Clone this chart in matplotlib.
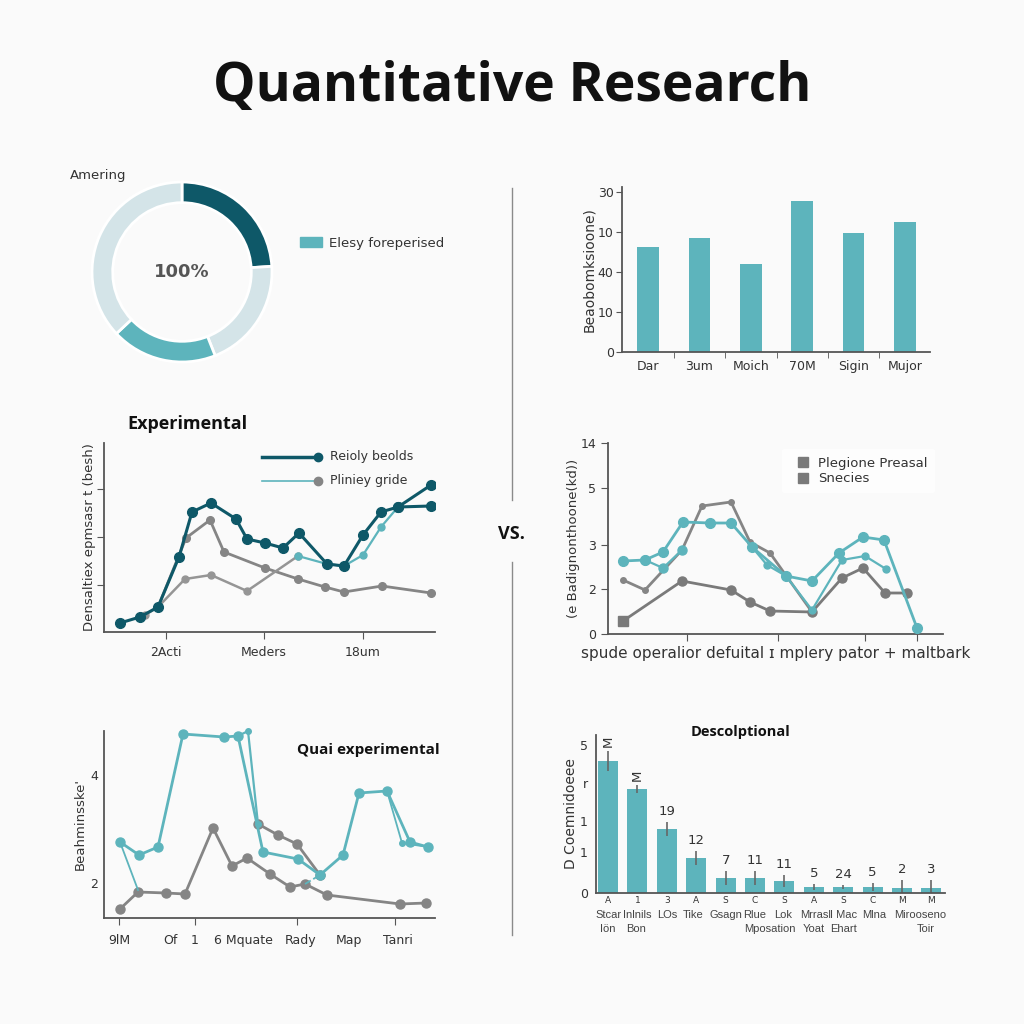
import matplotlib
matplotlib.use('Agg')
import matplotlib.pyplot as plt
from matplotlib.lines import Line2D
from matplotlib.patches import Patch

plt.rcParams['font.family'] = ['DejaVu Sans']

DARK = '#0e5868'
TEAL = '#5db4bc'
LIGHT = '#d4e4e8'
GREY = '#858585'
TXT = '#333333'
BG = '#fafafa'
HEAD = 'Open Sans'

# ---------------- data ----------------
title_text = 'Quantitative Research'

donut_values = [24, 20, 19, 37]
donut_colors = [DARK, LIGHT, TEAL, LIGHT]
donut_center = '100%'
donut_title = 'Amering'
donut_legend = 'Elesy foreperised'

bar_cats = ['Dar', '3um', 'Moich', '70M', 'Sigin', 'Mujor']
bar_vals = [26.2, 28.5, 22.0, 37.8, 29.8, 32.5]
bar_ytick_pos = [0, 10, 20, 30, 40]
bar_ytick_labels = ['0', '10', '40', '10', '30']
bar_ylabel = 'Beaobomksioone)'

exp_title = 'Experimental'
exp_dark_x = [1.6, 3.6, 5.4, 7.5, 8.8, 10.7, 13.2, 14.3, 16.1, 17.9, 19.5, 22.3, 24.0, 25.9, 27.7, 29.4, 32.7]
exp_dark_y = [0.9, 1.5, 2.5, 7.5, 12.0, 12.9, 11.3, 9.3, 8.9, 8.4, 9.9, 6.8, 6.6, 9.7, 12.0, 12.5, 14.7]
exp_branch_x = [29.4, 32.7]
exp_branch_y = [12.5, 12.6]
exp_grey1_x = [5.4, 8.2, 10.6, 12.0, 16.1, 19.4, 22.1, 24.0, 27.8, 32.7]
exp_grey1_y = [2.5, 9.4, 11.2, 8.0, 6.4, 5.3, 4.5, 4.0, 4.6, 3.9]
exp_grey2_x = [4.1, 5.4, 8.1, 10.7, 14.3, 19.4]
exp_grey2_y = [1.7, 2.5, 5.3, 5.7, 4.1, 7.6]
exp_light_x = [19.4, 22.3, 24.0, 25.9, 27.7, 29.4]
exp_light_y = [7.6, 6.8, 6.6, 7.7, 10.5, 12.5]
exp_xticks = [6.2, 16.0, 25.9]
exp_xlabels = ['2Acti', 'Meders', '18um']
exp_yticks = [4.7, 9.5, 14.3]
exp_ylabel = 'Densaltiex epmsasr t (besh)'
exp_legend = ['Reioly beolds', 'Pliniey gride']

r_teal1_x = [1.5, 3.7, 5.5, 7.5, 10.2, 12.3, 14.4, 17.8, 20.4, 23.1, 25.5, 27.6, 30.9]
r_teal1_y = [7.3, 7.4, 8.2, 11.2, 11.1, 11.1, 8.7, 5.8, 5.3, 8.1, 9.7, 9.4, 0.6]
r_teal2_x = [3.7, 5.5, 7.4]
r_teal2_y = [7.4, 6.6, 8.4]
r_teal3_x = [14.4, 15.9, 17.8, 20.4, 23.4, 25.7, 27.8]
r_teal3_y = [8.7, 6.9, 5.8, 2.4, 7.4, 7.8, 6.5]
r_grey1_x = [1.5, 3.7, 7.4, 9.4, 12.3, 14.2, 16.2, 20.4]
r_grey1_y = [5.4, 4.4, 8.4, 12.8, 13.2, 9.2, 8.1, 2.2]
r_grey2_x = [1.5, 7.4, 12.3, 14.2, 16.2, 20.4, 23.4, 25.5, 27.7, 29.9]
r_grey2_y = [1.3, 5.3, 4.4, 3.2, 2.3, 2.2, 5.6, 6.6, 4.1, 4.1]
r_yticks = [0, 4.5, 8.9, 14.6, 19.1]
r_ylabels = ['0', '2', '3', '5', '14']
r_xticks = [7.9, 17.0, 25.7, 30.9]
r_xlabel = 'spude operalior defuital \u026a mplery pator + maltbark'
r_ylabel = '(e Badignonthoone(kd))'
r_legend = ['Plegione Preasal', 'Snecies']

q_title = 'Quai experimental'
q_teal1_x = [1.6, 3.5, 5.4, 7.9, 12.0, 13.4, 15.9, 19.4, 21.6, 23.9, 25.5, 28.3, 30.6, 32.4]
q_teal1_y = [7.6, 6.3, 7.1, 18.4, 18.1, 18.2, 6.6, 5.9, 4.3, 6.3, 12.5, 12.7, 7.6, 7.1]
q_teal2_x = [1.6, 3.4]
q_teal2_y = [7.6, 2.8]
q_teal3_x = [13.4, 14.4, 15.4]
q_teal3_y = [18.2, 18.7, 9.4]
q_teal4_x = [20.1, 21.6]
q_teal4_y = [3.4, 4.3]
q_teal5_x = [28.3, 29.8, 32.4]
q_teal5_y = [12.7, 7.5, 7.1]
q_grey1_x = [1.6, 3.4, 6.2, 8.1, 10.9, 12.8, 14.3, 16.6, 18.6, 20.1, 22.3, 29.6, 32.2]
q_grey1_y = [0.9, 2.6, 2.5, 2.4, 9.0, 5.2, 6.0, 4.4, 3.1, 3.4, 2.3, 1.4, 1.5]
q_grey2_x = [15.4, 17.4, 19.3, 21.6]
q_grey2_y = [9.4, 8.3, 7.4, 4.3]
q_yticks = [3.5, 14.3]
q_ylabels = ['2', '4']
q_xticks = [1.5, 9.1, 19.3, 29.1]
q_xlabel_pos = [1.5, 6.6, 9.1, 13.9, 19.7, 24.5, 29.4]
q_xlabels = ['9lM', 'Of', '1', '6 Mquate', 'Rady', 'Map', 'Tanri']
q_ylabel = "Beahminsske'"

d_title = 'Descolptional'
d_vals = [13.2, 10.4, 6.4, 3.5, 1.5, 1.5, 1.2, 0.6, 0.6, 0.6, 0.5, 0.5]
d_err = [1.0, 0.4, 0.7, 0.7, 0.7, 0.7, 0.6, 0.3, 0.2, 0.4, 0.8, 0.8]
d_value_labels = ['M', 'M', '19', '12', '7', '11', '11', '5', '24', '5', '2', '3']
d_letters = ['A', '1', '3', 'A', 'S', 'C', 'S', 'A', 'S', 'C', 'M', 'M']
d_row1 = ['Stcar', 'Inlnils', 'LOs', 'Tike', 'Gsagn', 'Rlue', 'Lok', 'Mrrasl', 'I Mac', 'Mlna', 'Mirooseno']
d_row1_pos = [0, 1, 2, 2.9, 4, 5, 5.95, 7.05, 8, 9.05, 10.6]
d_row2 = ['I\u00f6n', 'Bon', 'Mposation', 'Yoat', 'Ehart', 'Toir']
d_row2_pos = [0, 0.95, 5.5, 7.0, 8, 10.8]
d_yticks = [0, 4.1, 7.2, 11.0, 14.8]
d_ylabels = ['0', '1', '1', 'r', '5']
d_ylabel = 'D Coemnidoeee'

# ---------------- layout helpers ----------------
W = 1024.0
fig = plt.figure(figsize=(10.24, 10.24), dpi=100, facecolor=BG)


def add_ax(l, t, r, b):
    return fig.add_axes([l / W, 1 - b / W, (r - l) / W, (b - t) / W])


def ftext(x, y, s, **kw):
    return fig.text(x / W, 1 - y / W, s, **kw)


def style(ax, spine_color='#555555'):
    ax.set_facecolor('none')
    for s in ['top', 'right']:
        ax.spines[s].set_visible(False)
    for s in ['left', 'bottom']:
        ax.spines[s].set_color(spine_color)
        ax.spines[s].set_linewidth(1.3)
    ax.tick_params(colors=spine_color, labelcolor=TXT, labelsize=9)


# title
ftext(512, 87, title_text, ha='center', va='center', fontsize=38.5,
      fontweight='bold', family=HEAD, color='#111111')

# divider + VS
fig.add_artist(Line2D([512 / W, 512 / W], [1 - 188 / W, 1 - 500 / W], color='#8a8a8a', lw=1))
fig.add_artist(Line2D([512 / W, 512 / W], [1 - 562 / W, 1 - 935 / W], color='#8a8a8a', lw=1))
ftext(511, 534, 'VS.', ha='center', va='center', fontsize=13, fontweight='bold',
      family=HEAD, color='#111111')

# ---------------- donut ----------------
ax = add_ax(92, 182, 272, 362)
ax.pie(donut_values, colors=donut_colors, startangle=90, counterclock=False,
       wedgeprops=dict(width=0.23, edgecolor='white', linewidth=2))
ax.set_xlim(-1, 1)
ax.set_ylim(-1, 1)
ax.text(0, 0, donut_center, ha='center', va='center', fontsize=13,
        fontweight='bold', color='#555555')
ftext(70, 176, donut_title, ha='left', va='center', fontsize=9.5, color=TXT)
fig.legend(handles=[Patch(color=TEAL)], labels=[donut_legend], loc='center left',
           bbox_to_anchor=(300 / W, 1 - 243 / W), frameon=False, handlelength=1.7,
           handleheight=0.75, fontsize=9.5, borderpad=0, borderaxespad=0,
           handletextpad=0.5, labelcolor=TXT)

# ---------------- bar chart ----------------
ax = add_ax(622, 187, 930, 352)
style(ax)
xs = list(range(len(bar_cats)))
ax.bar(xs, bar_vals, width=0.42, color=TEAL)
ax.set_xlim(-0.51, 5.49)
ax.set_ylim(0, 41.2)
ax.set_yticks(bar_ytick_pos)
ax.set_yticklabels(bar_ytick_labels)
ax.set_xticks(xs)
ax.set_xticklabels(bar_cats)
ax.set_xticks([x + 0.5 for x in xs[:-1]], minor=True)
ax.tick_params(axis='x', which='major', length=0, pad=6)
ax.tick_params(axis='x', which='minor', length=4, color='#555555')
ax.tick_params(axis='y', length=4, pad=2)
ax.set_ylabel(bar_ylabel, fontsize=10, color=TXT, labelpad=1)

# ---------------- experimental ----------------
ax = add_ax(104, 443, 435, 632)
style(ax)
ax.plot(exp_grey1_x, exp_grey1_y, color=GREY, lw=2, marker='o', ms=5.5, zorder=2)
ax.plot(exp_grey2_x, exp_grey2_y, color='#959595', lw=1.8, marker='o', ms=5, zorder=2)
ax.plot(exp_light_x, exp_light_y, color=TEAL, lw=1.6, marker='o', ms=5, zorder=2)
ax.plot(exp_branch_x, exp_branch_y, color=DARK, lw=2.2, marker='o', ms=7, zorder=3)
ax.plot(exp_dark_x, exp_dark_y, color=DARK, lw=2.2, marker='o', ms=7, zorder=3)
ax.set_xlim(0, 33.1)
ax.set_ylim(0, 18.9)
ax.set_xticks(exp_xticks)
ax.set_xticklabels(exp_xlabels)
ax.set_yticks(exp_yticks)
ax.set_yticklabels([])
ax.tick_params(length=5, pad=5)
ax.set_ylabel(exp_ylabel, fontsize=9.5, color=TXT, labelpad=-4)
ftext(187, 424, exp_title, ha='center', va='center', fontsize=13, fontweight='bold',
      family=HEAD, color='#111111')
# legend keys
ax.plot([0.477, 0.647], [0.926, 0.926], transform=ax.transAxes, color=DARK, lw=2.5, clip_on=False)
ax.plot([0.647], [0.926], transform=ax.transAxes, color=DARK, marker='o', ms=6, clip_on=False)
ax.plot([0.477, 0.647], [0.799, 0.799], transform=ax.transAxes, color=TEAL, lw=1.2, clip_on=False)
ax.plot([0.647], [0.799], transform=ax.transAxes, color=GREY, marker='o', ms=6, clip_on=False)
ax.text(0.683, 0.926, exp_legend[0], transform=ax.transAxes, va='center', fontsize=9, color=TXT)
ax.text(0.683, 0.799, exp_legend[1], transform=ax.transAxes, va='center', fontsize=9, color=TXT)

# ---------------- right line chart ----------------
ax = add_ax(608, 443, 943, 634)
style(ax)
ax.plot(r_grey1_x, r_grey1_y, color=GREY, lw=2, marker='o', ms=4, zorder=2)
ax.plot(r_grey2_x, r_grey2_y, color='#7a7a7a', lw=2, marker='o', ms=6.5, zorder=2)
ax.plot(r_grey2_x[:1], r_grey2_y[:1], color='#7a7a7a', ls='', marker='s', ms=7, zorder=3)
ax.plot(r_teal2_x, r_teal2_y, color=TEAL, lw=1.6, marker='o', ms=6.5, zorder=3)
ax.plot(r_teal3_x, r_teal3_y, color=TEAL, lw=1.6, marker='o', ms=5, zorder=3)
ax.plot(r_teal1_x, r_teal1_y, color=TEAL, lw=2, marker='o', ms=7, zorder=4)
ax.set_xlim(0, 33.5)
ax.set_ylim(0, 19.1)
ax.set_yticks(r_yticks)
ax.set_yticklabels(r_ylabels)
ax.set_xticks(r_xticks)
ax.set_xticklabels([])
ax.tick_params(length=5)
ax.set_ylabel(r_ylabel, fontsize=9.5, color=TXT, labelpad=0)
ax.set_xlabel(r_xlabel, fontsize=11, color=TXT, labelpad=0)
ax.legend(handles=[Line2D([], [], color='#7a7a7a', marker='s', ls='', ms=7)] * 2,
          labels=r_legend, loc='upper left', bbox_to_anchor=(0.5, 1.005),
          fontsize=9.5, frameon=True, facecolor='white', edgecolor='none',
          framealpha=0.8, handletextpad=0.1, labelspacing=0.2, borderpad=0.6,
          labelcolor=TXT)

# ---------------- quasi experimental ----------------
ax = add_ax(104, 731, 435, 918)
style(ax)
ax.plot(q_grey1_x, q_grey1_y, color=GREY, lw=2, marker='o', ms=6.5, zorder=2)
ax.plot(q_grey2_x, q_grey2_y, color=GREY, lw=2, marker='o', ms=6.5, zorder=2)
ax.plot(q_teal2_x, q_teal2_y, color=TEAL, lw=1.3, zorder=2)
ax.plot(q_teal4_x, q_teal4_y, color=TEAL, lw=1.3, ls='--', zorder=2)
ax.plot(q_teal5_x, q_teal5_y, color=TEAL, lw=1.3, marker='o', ms=4, zorder=3)
ax.plot(q_teal3_x, q_teal3_y, color=TEAL, lw=1.6, marker='o', ms=4, zorder=3, clip_on=False)
ax.plot(q_teal1_x, q_teal1_y, color=TEAL, lw=2, marker='o', ms=6.5, zorder=4, clip_on=False)
ax.set_xlim(0, 33.1)
ax.set_ylim(0, 18.7)
ax.set_yticks(q_yticks)
ax.set_yticklabels(q_ylabels)
ax.tick_params(axis='y', length=0, pad=4)
ax.set_xticks(q_xticks)
ax.set_xticklabels([])
ax.tick_params(axis='x', which='major', length=5)
for s, p in zip(q_xlabels, q_xlabel_pos):
    ax.text(p, -0.12, s, transform=ax.get_xaxis_transform(), ha='center', va='center',
            fontsize=9, color=TXT)
ax.set_ylabel(q_ylabel, fontsize=9.5, color=TXT, labelpad=3)
ftext(368, 750, q_title, ha='center', va='center', fontsize=11, fontweight='bold',
      family=HEAD, color='#111111')

# ---------------- descriptional bars ----------------
ax = add_ax(596, 735, 945, 893)
style(ax)
dx = list(range(len(d_vals)))
ax.bar(dx, d_vals, width=0.68, color=TEAL, yerr=d_err, capsize=0,
       error_kw=dict(ecolor='#666666', elinewidth=1.2))
for x, v, e, lab in zip(dx, d_vals, d_err, d_value_labels):
    ax.annotate(lab, (x, v + e), xytext=(0, 3), textcoords='offset points',
                ha='center', va='bottom', fontsize=9.5, color=TXT,
                rotation=90 if lab == 'M' else 0)
ax.set_xlim(-0.41, 11.46)
ax.set_ylim(0, 15.8)
ax.set_yticks(d_yticks)
ax.set_yticklabels(d_ylabels)
ax.tick_params(axis='y', length=0, pad=6)
ax.set_xticks(dx)
ax.set_xticklabels(d_letters, fontsize=6.5)
ax.tick_params(axis='x', length=0, pad=2)
for s, p in zip(d_row1, d_row1_pos):
    ax.text(p, -0.14, s, transform=ax.get_xaxis_transform(), ha='center', va='center',
            fontsize=8, family='Liberation Sans', color='#444444')
for s, p in zip(d_row2, d_row2_pos):
    ax.text(p, -0.225, s, transform=ax.get_xaxis_transform(), ha='center', va='center',
            fontsize=8, family='Liberation Sans', color='#444444')
ax.set_ylabel(d_ylabel, fontsize=10, color=TXT, labelpad=1)
ftext(740, 732, d_title, ha='center', va='center', fontsize=10.5, fontweight='bold',
      family=HEAD, color='#111111')

fig.savefig('out.png', dpi=100, facecolor=BG)
